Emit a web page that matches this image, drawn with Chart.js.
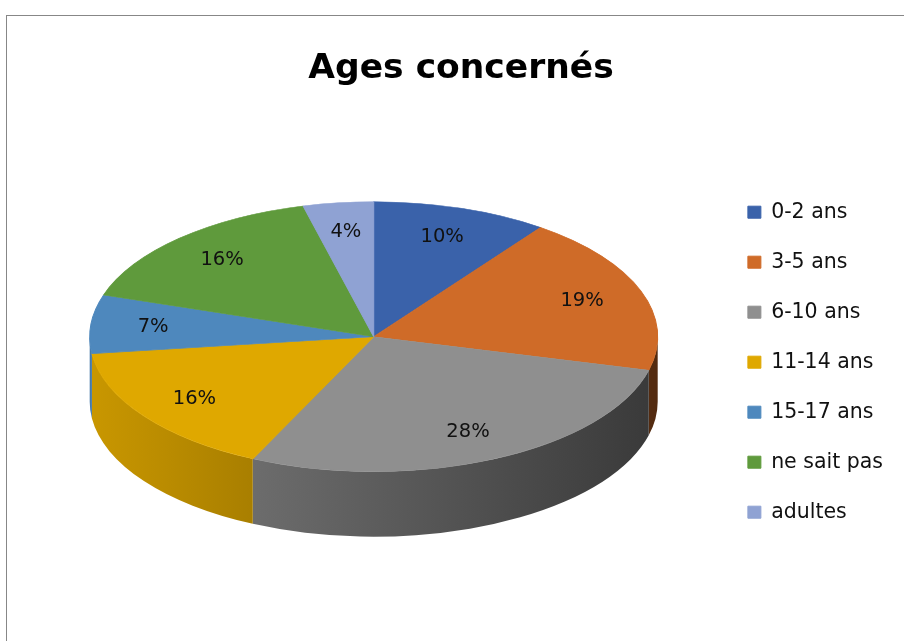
<!DOCTYPE html>
<html>
<head>
    <meta charset="utf-8" />
    <title>Ages concernés</title>
    <script src="https://cdn.jsdelivr.net/npm/chart.js"></script>
    <style>
        body {
            margin: 0;
            background-color: #ffffff;
            overflow: hidden;
        }
        .frame {
            position: absolute;
            left: 6px;
            top: 15px;
            width: 940px;
            height: 660px;
            border: 1px solid #878787;
        }
        #agesChart {
            position: absolute;
            left: 0;
            top: 0;
        }
    </style>
</head>
<body>
    <div class="frame">
        <canvas id="agesChart" width="909" height="630"></canvas>
    </div>
    <script>
        const categories = ['0-2 ans', '3-5 ans', '6-10 ans', '11-14 ans', '15-17 ans', 'ne sait pas', 'adultes'];
        const percentages = [10, 19, 28, 16, 7, 16, 4];
        const sliceColors = ['#3A62AA', '#CF6B28', '#8F8F8F', '#DFA800', '#4E88BD', '#5F9A3C', '#8FA2D3'];

        // size of the tilted top face, thickness of the pie, label placement
        const faceRx = 284;
        const faceRy = 135;
        const depth = 65;
        const faceLift = 25.5;
        const labelRadius = 0.78;

        Chart.defaults.font.family = "'DejaVu Sans', sans-serif";

        function shade(hex, k) {
            const n = parseInt(hex.slice(1), 16);
            const r = Math.round(((n >> 16) & 255) * k);
            const g = Math.round(((n >> 8) & 255) * k);
            const b = Math.round((n & 255) * k);
            return `rgb(${r}, ${g}, ${b})`;
        }

        // squashes the pie into an ellipse and adds the visible side wall
        const pie3d = {
            id: 'pie3d',
            beforeDatasetsDraw(chart) {
                const arcs = chart.getDatasetMeta(0).data;
                const { x, y, outerRadius: r } = arcs[0];
                const sx = faceRx / r;
                const sy = faceRy / r;
                const ctx = chart.ctx;
                ctx.save();
                ctx.translate(x, y - faceLift);
                ctx.scale(sx, sy);
                ctx.translate(-x, -y);
                const du = depth / sy;
                arcs.forEach((arc, i) => {
                    const s = Math.max(arc.startAngle, 0);
                    const e = Math.min(arc.endAngle, Math.PI);
                    if (e <= s) return;
                    const grad = ctx.createLinearGradient(x - r, 0, x + r, 0);
                    grad.addColorStop(0, shade(sliceColors[i], 0.9));
                    grad.addColorStop(1, shade(sliceColors[i], 0.4));
                    ctx.beginPath();
                    ctx.arc(x, y, r, s, e);
                    ctx.arc(x, y + du, r, e, s, true);
                    ctx.closePath();
                    ctx.fillStyle = grad;
                    ctx.fill();
                });
            },
            afterDatasetsDraw(chart) {
                const ctx = chart.ctx;
                ctx.restore();
                const arcs = chart.getDatasetMeta(0).data;
                const { x, y } = arcs[0];
                const total = percentages.reduce((a, b) => a + b, 0);
                ctx.save();
                ctx.font = "19.5px 'DejaVu Sans'";
                ctx.fillStyle = '#111111';
                ctx.textAlign = 'center';
                ctx.textBaseline = 'middle';
                arcs.forEach((arc, i) => {
                    const mid = (arc.startAngle + arc.endAngle) / 2;
                    const lx = x + Math.cos(mid) * faceRx * labelRadius;
                    const ly = y - faceLift + Math.sin(mid) * faceRy * labelRadius;
                    ctx.fillText(Math.round(percentages[i] / total * 100) + '%', lx, ly);
                });
                ctx.restore();
            }
        };

        new Chart(document.getElementById('agesChart'), {
            type: 'pie',
            data: {
                labels: categories,
                datasets: [{
                    data: percentages,
                    backgroundColor: sliceColors,
                    borderColor: sliceColors,
                    borderWidth: 1,
                    clip: false
                }]
            },
            options: {
                responsive: false,
                animation: false,
                events: [],
                layout: {
                    padding: { left: 22, right: 23, top: 0, bottom: 21 }
                },
                plugins: {
                    title: {
                        display: true,
                        text: 'Ages concernés',
                        color: '#000000',
                        font: { size: 34.5, weight: 'bold' },
                        padding: { top: 32, bottom: 10 }
                    },
                    legend: {
                        position: 'right',
                        fullSize: false,
                        labels: {
                            boxWidth: 13,
                            boxHeight: 12,
                            padding: 29.5,
                            color: '#111111',
                            font: { size: 20.5 }
                        }
                    },
                    tooltip: { enabled: false }
                }
            },
            plugins: [pie3d]
        });
    </script>
</body>
</html>
